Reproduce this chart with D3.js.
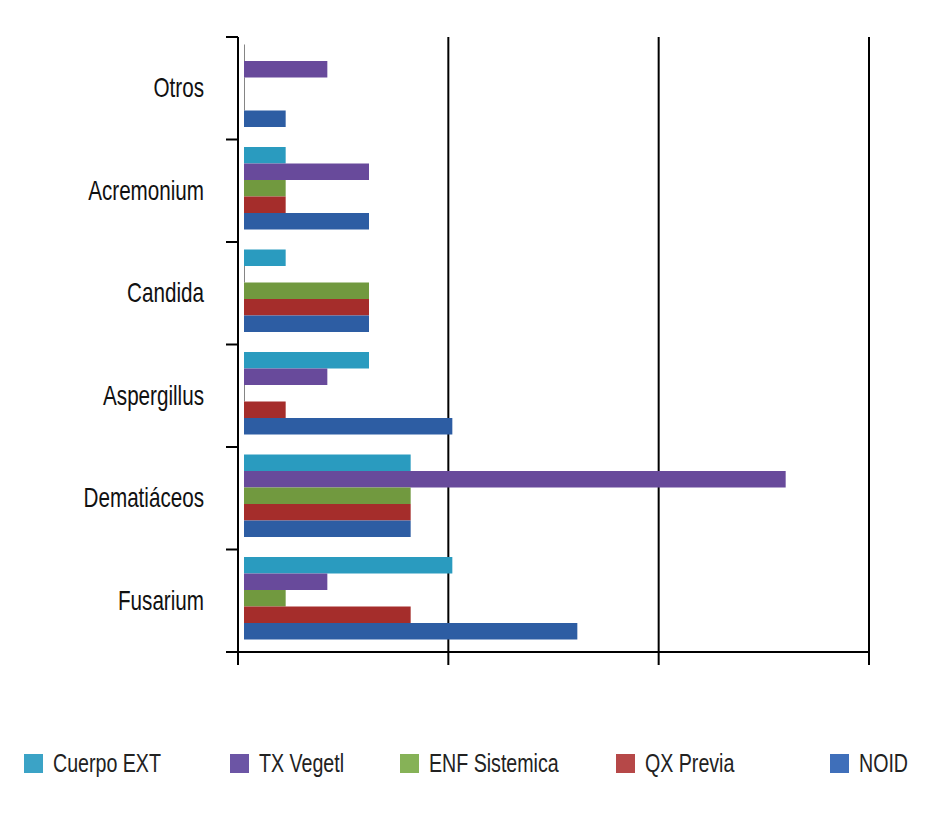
<!DOCTYPE html>
<html>
<head>
<meta charset="UTF-8">
<title>Hongos por antecedente</title>
<script src="https://d3js.org/d3.v7.min.js"></script>
<style>
body { margin: 0; background: #fff; }
svg text { font-family: "Liberation Sans", Arial, sans-serif; }
</style>
</head>
<body>
<svg id="chart" width="929" height="816"></svg>
<script>
// categories top to bottom
let categories = ["Otros", "Acremonium", "Candida", "Aspergillus", "Dematiáceos", "Fusarium"];
let seriesNames = ["Cuerpo EXT", "TX Vegetl", "ENF Sistemica", "QX Previa", "NOID"];
// values per series, same order as categories
let cuerpoExt   = [0, 1, 1, 3, 4, 5];
let txVegetl    = [2, 3, 0, 2, 13, 2];
let enfSistem   = [0, 1, 3, 0, 4, 1];
let qxPrevia    = [0, 1, 3, 1, 4, 4];
let noid        = [1, 3, 3, 5, 4, 8];
let xTicks = [0, 5, 10, 15];

let seriesValues = [cuerpoExt, txVegetl, enfSistem, qxPrevia, noid];
let barColors = ["#2a9bbf", "#684a9b", "#71993f", "#a52d2b", "#2d5da3"];
let legendColors = ["#3ba3c6", "#6c55a5", "#86b257", "#b64848", "#3f6fba"];

// no narrow font installed, squeeze Liberation Sans instead
const narrow = 0.765;

let svg = d3.select("#chart");

let x = d3.scaleLinear().domain([0, 15]).range([238, 869]);
// bars in the original sit a few px right of the axis
let xb = d3.scaleLinear().domain([0, 15]).range([244, 869]);
let y = d3.scaleBand().domain(categories).range([37, 652]).padding(0);
let ys = d3.scaleBand().domain(seriesNames).range([7.5, 90]);

// gridlines
svg.append("g")
    .selectAll("line")
    .data(xTicks.slice(1))
    .enter().append("line")
    .attr("x1", d => x(d)).attr("x2", d => x(d))
    .attr("y1", 37).attr("y2", 665)
    .attr("stroke", "#000").attr("stroke-width", 2);

// bars
let groups = svg.append("g")
    .selectAll("g")
    .data(categories)
    .enter().append("g")
    .attr("transform", c => "translate(0," + y(c) + ")");

groups.selectAll("rect")
    .data((c, i) => seriesNames.map((s, k) => ({s: s, k: k, v: seriesValues[k][i]})))
    .enter().append("rect")
    .attr("x", xb(0))
    .attr("y", d => ys(d.s))
    .attr("height", ys.bandwidth())
    .attr("width", d => d.v === 0 ? 1 : xb(d.v) - xb(0))
    .attr("fill", d => d.v === 0 ? "#333" : barColors[d.k])
    .attr("opacity", d => d.v === 0 ? 0.6 : 1);

// left axis
let yAxis = svg.append("g");
yAxis.append("line")
    .attr("x1", x(0)).attr("x2", x(0))
    .attr("y1", 37).attr("y2", 665)
    .attr("stroke", "#000").attr("stroke-width", 2);
let bounds = categories.map(c => y(c)).concat([652]);
yAxis.selectAll("line.tk")
    .data(bounds)
    .enter().append("line")
    .attr("class", "tk")
    .attr("x1", 226).attr("x2", x(0))
    .attr("y1", d => d).attr("y2", d => d)
    .attr("stroke", "#000").attr("stroke-width", 2);
yAxis.selectAll("text")
    .data(categories)
    .enter().append("text")
    .attr("transform", c => "translate(204," + (y(c) + y.bandwidth() / 2 + 2) + ") scale(" + narrow + ",1)")
    .attr("text-anchor", "end")
    .attr("dominant-baseline", "middle")
    .attr("font-size", 27)
    .attr("fill", "#111")
    .text(c => c);

// bottom axis
svg.append("line")
    .attr("x1", 226).attr("x2", x(15))
    .attr("y1", 652).attr("y2", 652)
    .attr("stroke", "#000").attr("stroke-width", 2);

// legend
let legendX = [24, 230, 400, 616, 830];
let legend = svg.append("g")
    .selectAll("g")
    .data(seriesNames)
    .enter().append("g")
    .attr("transform", (d, i) => "translate(" + legendX[i] + ",754)");
legend.append("rect")
    .attr("width", 19).attr("height", 19)
    .attr("fill", (d, i) => legendColors[i]);
legend.append("text")
    .attr("transform", "translate(29,11) scale(0.755,1)")
    .attr("dominant-baseline", "middle")
    .attr("font-size", 26)
    .attr("fill", "#222")
    .text(d => d);
</script>
</body>
</html>
